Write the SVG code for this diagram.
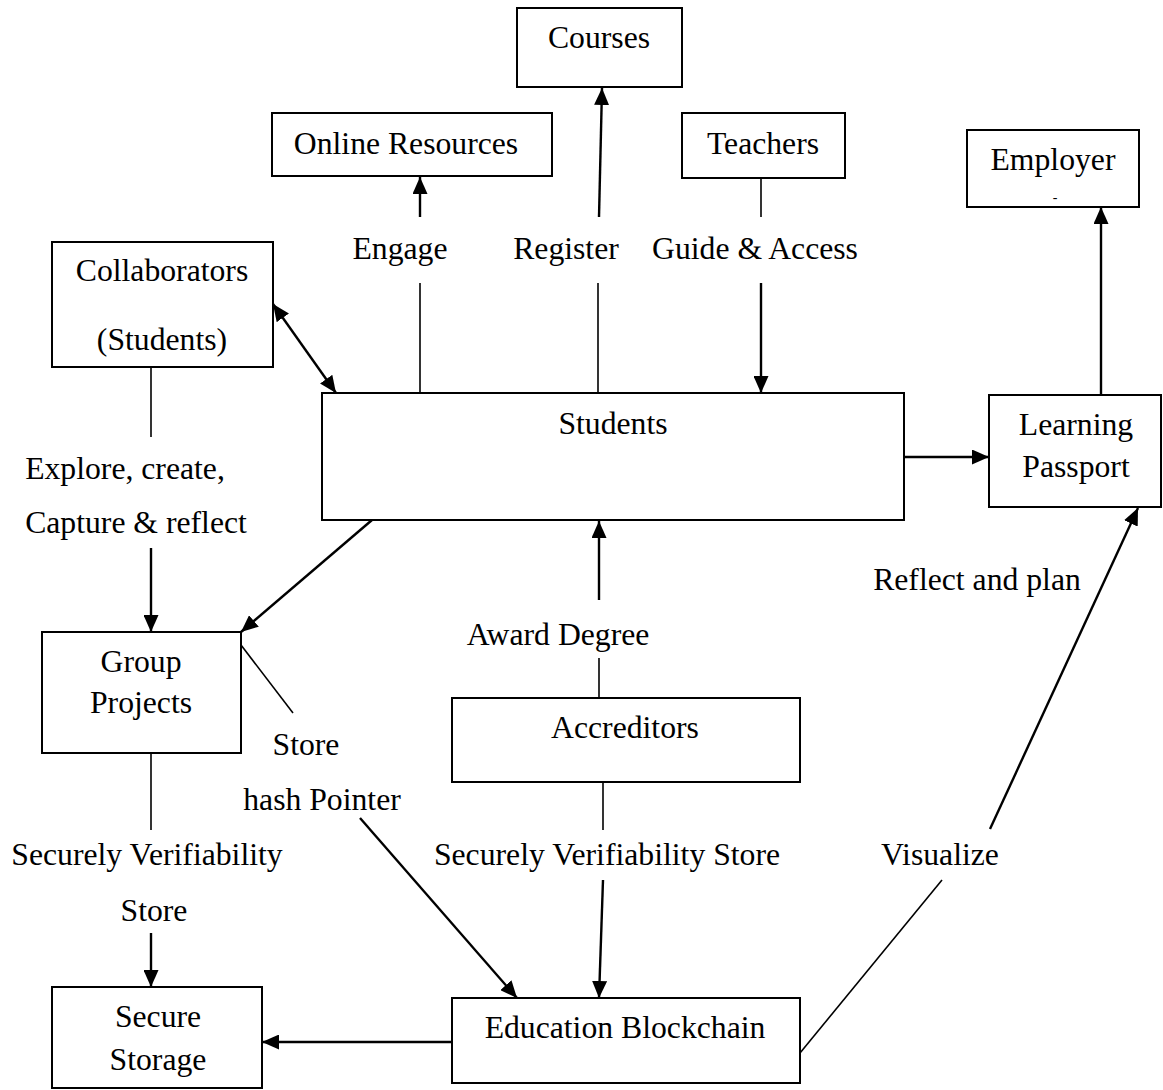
<svg xmlns="http://www.w3.org/2000/svg" width="1163" height="1090" viewBox="0 0 1163 1090">
<style>
.box{fill:#fff;stroke:#000;stroke-width:2}
text{font-family:"Liberation Serif","Times New Roman",serif;font-size:31.7px;fill:#000;text-anchor:middle}
.ln{stroke:#000;stroke-width:1.6;fill:none}
.ar{stroke:#000;stroke-width:2.4;fill:none;marker-end:url(#ah)}
.dar{stroke:#000;stroke-width:2.4;fill:none;marker-start:url(#ah);marker-end:url(#ah)}
</style>
<defs>
<marker id="ah" viewBox="0 0 17 15" refX="17" refY="7.5" markerWidth="17" markerHeight="15" markerUnits="userSpaceOnUse" orient="auto-start-reverse">
<path d="M0,0 L17,7.5 L0,15 z" fill="#000"/>
</marker>
</defs>
<rect width="1163" height="1090" fill="#fff"/>

<g id="connectors">
<line class="ln" x1="420" y1="393" x2="420" y2="283"/>
<line class="ar" x1="420" y1="217" x2="420" y2="177"/>
<line class="ln" x1="598" y1="393" x2="598" y2="283"/>
<line class="ar" x1="599" y1="217" x2="602" y2="88"/>
<line class="ln" x1="761" y1="178" x2="761" y2="217"/>
<line class="ar" x1="761" y1="283" x2="761" y2="393"/>
<line class="dar" x1="273" y1="304" x2="336" y2="393"/>
<line class="ln" x1="151" y1="367" x2="151" y2="437"/>
<line class="ar" x1="151" y1="548" x2="151" y2="632"/>
<line class="ar" x1="372" y1="520" x2="241" y2="632"/>
<line class="ar" x1="904" y1="457" x2="989" y2="457"/>
<line class="ar" x1="1101" y1="395" x2="1101" y2="207"/>
<line class="ln" x1="599" y1="698" x2="599" y2="658"/>
<line class="ar" x1="599" y1="600" x2="599" y2="521"/>
<line class="ln" x1="603" y1="782" x2="603" y2="830"/>
<line class="ar" x1="603" y1="880" x2="599" y2="998"/>
<line class="ln" x1="151" y1="753" x2="151" y2="830"/>
<line class="ar" x1="151" y1="933" x2="151" y2="987"/>
<line class="ln" x1="241" y1="645" x2="293" y2="713"/>
<line class="ar" x1="360" y1="818" x2="517" y2="998"/>
<line class="ar" x1="452" y1="1042" x2="262" y2="1042"/>
<line class="ln" x1="800" y1="1053" x2="942" y2="880"/>
<line class="ar" x1="990" y1="829" x2="1138" y2="508"/>

<text x="400" y="259">Engage</text>
<text x="566" y="259">Register</text>
<text x="755" y="259">Guide &amp; Access</text>
<text x="125" y="479">Explore, create,</text>
<text x="136" y="533">Capture &amp; reflect</text>
<text x="558" y="645">Award Degree</text>
<text x="306" y="755">Store</text>
<text x="322" y="810">hash Pointer</text>
<text x="147" y="865">Securely Verifiability</text>
<text x="154" y="921">Store</text>
<text x="607" y="865">Securely Verifiability Store</text>
<text x="940" y="865">Visualize</text>
<text x="977" y="590">Reflect and plan</text>
</g>

<g id="courses">
<rect class="box" x="517" y="8" width="165" height="79"/>
<text x="599" y="48">Courses</text>
</g>
<g id="online-resources">
<rect class="box" x="272" y="113" width="280" height="63"/>
<text x="406" y="154">Online Resources</text>
</g>
<g id="teachers">
<rect class="box" x="682" y="113" width="163" height="65"/>
<text x="763" y="154">Teachers</text>
</g>
<g id="employer">
<rect class="box" x="967" y="130" width="172" height="77"/>
<text x="1053" y="170">Employer</text>
<text x="1055" y="202" style="font-size:14px">-</text>
</g>
<g id="collaborators">
<rect class="box" x="52" y="242" width="221" height="125"/>
<text x="162" y="281">Collaborators</text>
<text x="162" y="350">(Students)</text>
</g>
<g id="students">
<rect class="box" x="322" y="393" width="582" height="127"/>
<text x="613" y="434">Students</text>
</g>
<g id="learning-passport">
<rect class="box" x="989" y="395" width="172" height="112"/>
<text x="1076" y="435">Learning</text>
<text x="1076" y="477">Passport</text>
</g>
<g id="group-projects">
<rect class="box" x="42" y="632" width="199" height="121"/>
<text x="141" y="672">Group</text>
<text x="141" y="713">Projects</text>
</g>
<g id="accreditors">
<rect class="box" x="452" y="698" width="348" height="84"/>
<text x="625" y="738">Accreditors</text>
</g>
<g id="secure-storage">
<rect class="box" x="52" y="987" width="210" height="101"/>
<text x="158" y="1027">Secure</text>
<text x="158" y="1070">Storage</text>
</g>
<g id="education-blockchain">
<rect class="box" x="452" y="998" width="348" height="85"/>
<text x="625" y="1038">Education Blockchain</text>
</g>
</svg>
